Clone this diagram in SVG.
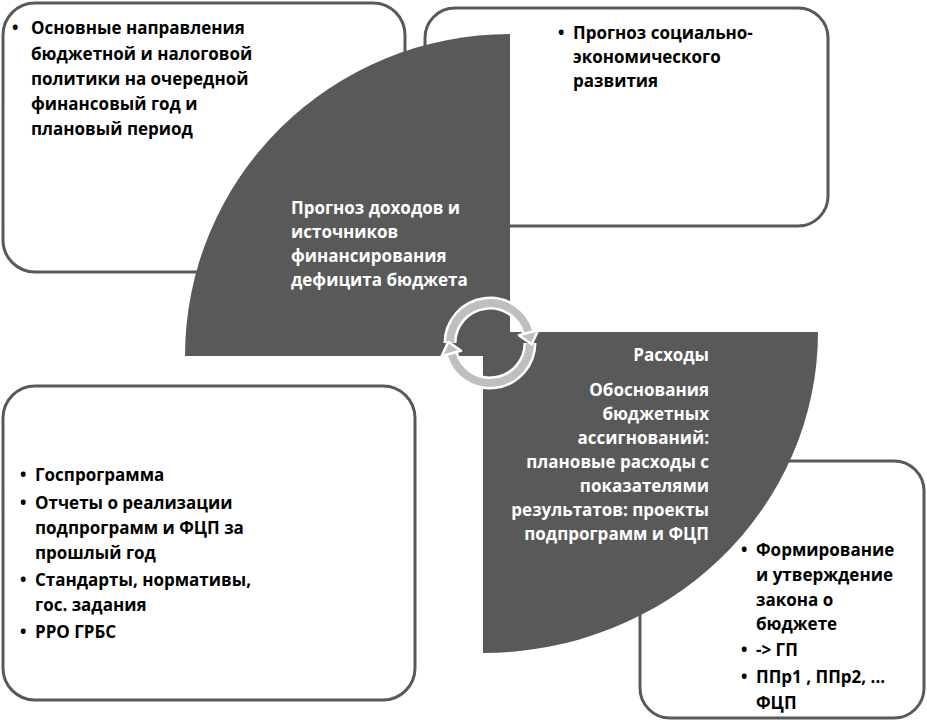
<svg xmlns="http://www.w3.org/2000/svg" width="927" height="720" viewBox="0 0 927 720">
<style>
.box{fill:#fff;stroke:#595959;stroke-width:3}
.seg{fill:#595959}
.t{font-family:"Open Sans","Liberation Sans",sans-serif;font-weight:bold;font-size:17px;fill:#000}
.w{font-family:"Open Sans","Liberation Sans",sans-serif;font-weight:bold;font-size:17px;fill:#fff}
.ring{fill:none;stroke:#fff;stroke-width:13}
.ringf{fill:none;stroke:#bfbfbf;stroke-width:8}
.ah{fill:#bfbfbf;stroke:#fff;stroke-width:2.5;stroke-linejoin:round}
</style>
<rect width="927" height="720" fill="#fff"/>
<g id="box-tl"><rect class="box" x="3" y="3" width="402" height="269" rx="32"/>
<text class="t" x="12" y="34">•</text>
<text class="t"><tspan x="31" y="34">Основные  направления</tspan><tspan x="31" y="60">бюджетной и налоговой</tspan><tspan x="31" y="85">политики на очередной</tspan><tspan x="31" y="110">финансовый год и</tspan><tspan x="31" y="135">плановый период</tspan></text></g>
<g id="box-tr"><rect class="box" x="425" y="8" width="403" height="218" rx="30"/>
<text class="t" x="558" y="39">•</text>
<text class="t"><tspan x="573" y="39">Прогноз социально-</tspan><tspan x="573" y="63">экономического</tspan><tspan x="573" y="87">развития</tspan></text></g>
<g id="box-bl"><rect class="box" x="3" y="386" width="412" height="314" rx="32"/>
<text class="t" x="20" y="481">•</text><text class="t" x="20" y="509">•</text><text class="t" x="20" y="586">•</text><text class="t" x="20" y="638">•</text>
<text class="t"><tspan x="35" y="481">Госпрограмма</tspan><tspan x="35" y="509">Отчеты о реализации</tspan><tspan x="35" y="534">подпрограмм и ФЦП за</tspan><tspan x="35" y="559">прошлый год</tspan><tspan x="35" y="586">Стандарты, нормативы,</tspan><tspan x="35" y="611">гос. задания</tspan><tspan x="35" y="638">РРО ГРБС</tspan></text></g>
<g id="box-br"><rect class="box" x="640" y="461" width="284" height="257" rx="30"/>
<text class="t" x="741" y="556">•</text><text class="t" x="741" y="656">•</text><text class="t" x="741" y="683">•</text>
<text class="t"><tspan x="756" y="556">Формирование</tspan><tspan x="756" y="581">и утверждение</tspan><tspan x="756" y="606">закона о</tspan><tspan x="756" y="630">бюджете</tspan><tspan x="756" y="656">-&gt; ГП</tspan><tspan x="756" y="683">ППр1 , ППр2, ...</tspan><tspan x="756" y="709">ФЦП</tspan></text></g>
<g id="seg-income"><path class="seg" d="M510,356 L185,356 A325,322 0 0 1 510,34 Z"/>
<text class="w"><tspan x="291" y="214">Прогноз доходов и</tspan><tspan x="291" y="238">источников</tspan><tspan x="291" y="262">финансирования</tspan><tspan x="291" y="286">дефицита бюджета</tspan></text></g>
<g id="seg-expense"><path class="seg" d="M483,332 L818,332 A335,321 0 0 1 483,653 Z"/>
<text class="w" text-anchor="end"><tspan x="709" y="361">Расходы</tspan><tspan x="709" y="396">Обоснования</tspan><tspan x="709" y="420">бюджетных</tspan><tspan x="709" y="444">ассигнований:</tspan><tspan x="709" y="468">плановые расходы с</tspan><tspan x="709" y="492">показателями</tspan><tspan x="709" y="516">результатов: проекты</tspan><tspan x="709" y="540">подпрограмм и ФЦП</tspan></text></g>
<g id="connectors">
<path class="ring" d="M450,343 A40,40 0 0 1 528.6,332.6"/>
<path class="ring" d="M530,343 A40,40 0 0 1 451.4,353.4"/>
<path class="ringf" d="M450,343 A40,40 0 0 1 528.6,332.6"/>
<path class="ringf" d="M530,343 A40,40 0 0 1 451.4,353.4"/>
<polygon class="ah" points="531.7,344.2 538.3,330 518.9,335.2"/>
<polygon class="ah" points="448.3,341.8 441.7,356 461.1,350.8"/>
</g>
</svg>
